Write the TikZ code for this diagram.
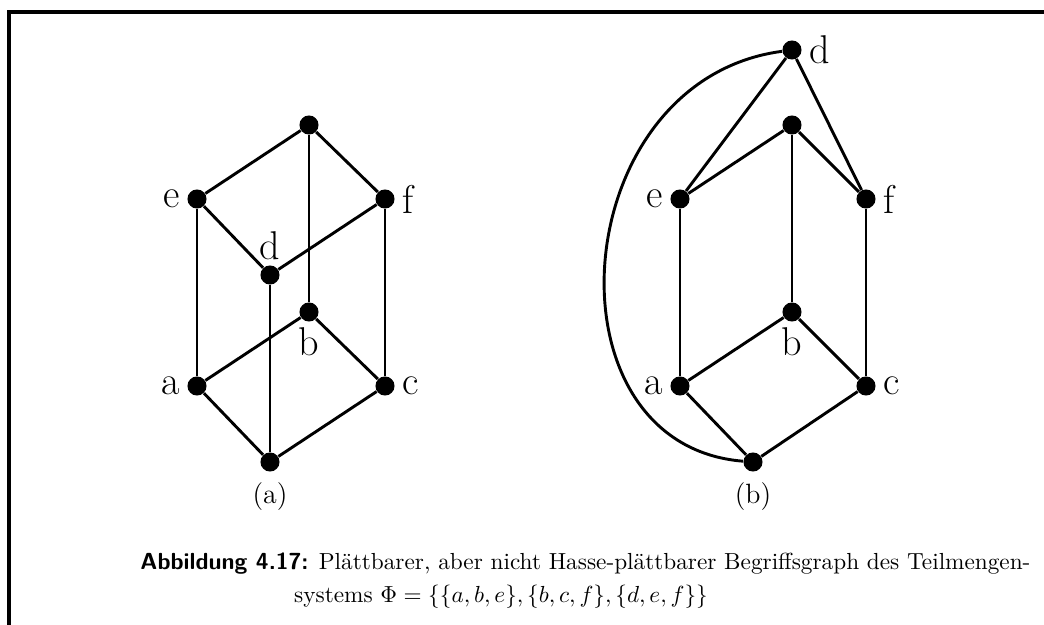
\documentclass[tikz,border=0pt]{standalone}
\usepackage{amssymb}
\usepackage{tikz}
\usetikzlibrary{positioning}

\begin{document}
\begin{tikzpicture}[
  x=0.43pt, y=-0.43pt,
  pt/.style={circle,fill=black,inner sep=0pt,minimum size=8.2pt},
  lbl/.style={font=\LARGE,inner sep=1pt},
  edge/.style={line width=1.25pt}
]
\useasboundingbox (0,0) rectangle (1044,625);
\draw[line width=1.5pt] (1044,12) -- (9,12) -- (9,625);

% (a)
\node[pt] (at) at (309,125) {};
\node[pt] (ae) at (197,199) {};
\node[pt] (af) at (385,199) {};
\node[pt] (ad) at (270,275) {};
\node[pt] (ab) at (309,312) {};
\node[pt] (aa) at (197,386) {};
\node[pt] (ac) at (385,386) {};
\node[pt] (ao) at (270,462) {};
\node[lbl,left=2pt of ae] {e};
\node[lbl,right=2pt of af] {f};
\node[lbl,above=1pt of ad] {d};
\node[lbl,below=1pt of ab] {b};
\node[lbl,left=2pt of aa] {a};
\node[lbl,right=2pt of ac] {c};
\draw[edge] (at) -- (ae);
\draw[edge] (at) -- (af);
\draw[edge] (at) -- (ab);
\draw[edge] (ae) -- (ad);
\draw[edge] (af) -- (ad);
\draw[edge] (ae) -- (aa);
\draw[edge] (af) -- (ac);
\draw[edge] (ad) -- (ao);
\draw[edge] (ab) -- (aa);
\draw[edge] (ab) -- (ac);
\draw[edge] (aa) -- (ao);
\draw[edge] (ac) -- (ao);
\node[below=1pt of ao,font=\large] (capa) {(a)};

% (b)
\node[pt] (bd) at (792,50) {};
\node[pt] (bt) at (792,125) {};
\node[pt] (be) at (680,199) {};
\node[pt] (bf) at (866,199) {};
\node[pt] (bb) at (792,312) {};
\node[pt] (ba) at (680,386) {};
\node[pt] (bc) at (866,386) {};
\node[pt] (bo) at (753,462) {};
\node[lbl,right=2pt of bd] {d};
\node[lbl,left=2pt of be] {e};
\node[lbl,right=2pt of bf] {f};
\node[lbl,below=1pt of bb] {b};
\node[lbl,left=2pt of ba] {a};
\node[lbl,right=2pt of bc] {c};
\draw[edge] (bd) -- (be);
\draw[edge] (bd) -- (bf);
\draw[edge] (bt) -- (be);
\draw[edge] (bt) -- (bf);
\draw[edge] (bt) -- (bb);
\draw[edge] (be) -- (ba);
\draw[edge] (bf) -- (bc);
\draw[edge] (bb) -- (ba);
\draw[edge] (bb) -- (bc);
\draw[edge] (ba) -- (bo);
\draw[edge] (bc) -- (bo);
\draw[edge] (bd) .. controls (565,80) and (540,445) .. (bo);
\node[below=1pt of bo,font=\large] (capb) {(b)};

% caption
\node[anchor=base west,inner sep=0pt] (cap1) at (140,570)
  {\textsf{\textbf{Abbildung 4.17:}} Pl\"attbarer, aber nicht Hasse-pl\"attbarer Begriffsgraph des Teilmengen-};
\node[anchor=base,inner sep=0pt] (cap2) at (501,603)
  {systems $\Phi=\{\{a,b,e\},\{b,c,f\},\{d,e,f\}\}$};
\end{tikzpicture}
\end{document}
